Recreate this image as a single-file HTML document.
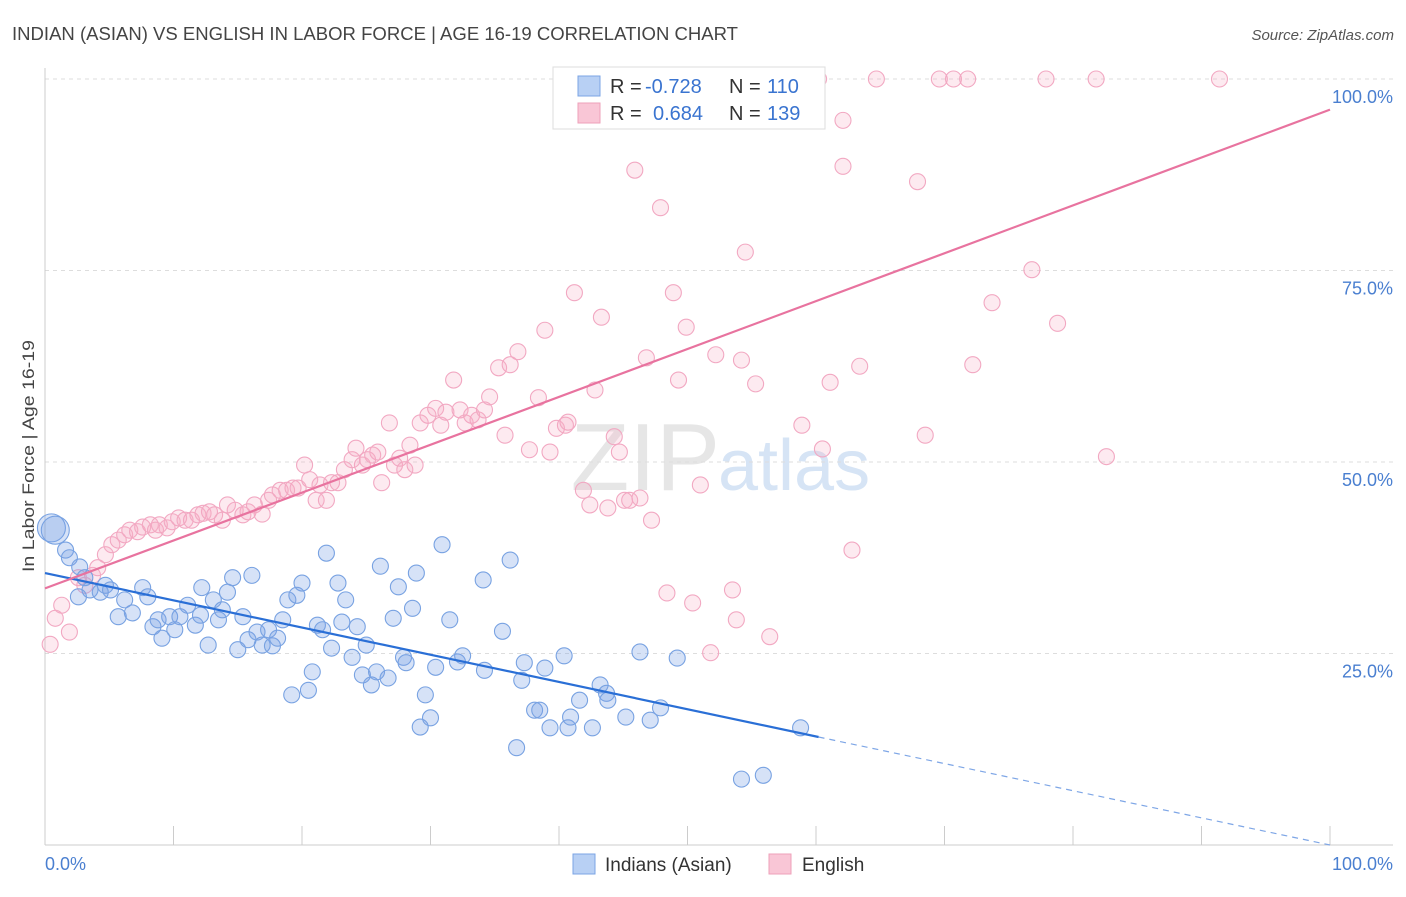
<!DOCTYPE html>
<html><head><meta charset="utf-8"><style>
body{margin:0;background:#fff;font-family:"Liberation Sans",sans-serif;}
svg text{font-family:"Liberation Sans",sans-serif;}
</style></head><body>
<svg id="chart" width="1406" height="892" viewBox="0 0 1406 892">
<text x="12" y="40" font-size="18" fill="#444" textLength="726" lengthAdjust="spacingAndGlyphs">INDIAN (ASIAN) VS ENGLISH IN LABOR FORCE | AGE 16-19 CORRELATION CHART</text>
<text x="1394" y="40" font-size="15" fill="#555" text-anchor="end" font-style="italic">Source: ZipAtlas.com</text>
<text x="720" y="490" font-size="96" fill="#e6e6e6" text-anchor="end" font-family="Liberation Serif">ZIP</text>
<text x="718" y="490" font-size="72" fill="#d6e4f5">atlas</text>
<g id="grid"></g>
<g id="marks"></g>
<text transform="translate(34,456) rotate(-90)" font-size="17" fill="#444" text-anchor="middle" textLength="232" lengthAdjust="spacingAndGlyphs">In Labor Force | Age 16-19</text>
<text x="45" y="870" font-size="18" fill="#4a7fd0">0.0%</text>
<text x="1393" y="870" font-size="18" fill="#4a7fd0" text-anchor="end">100.0%</text>
<g>
<rect x="553" y="67" width="272" height="62" fill="#fff" stroke="#ddd"/>
<rect x="578" y="76" width="22" height="20" fill="#b8d0f4" stroke="#7ba4e4"/>
<rect x="578" y="103" width="22" height="20" fill="#f9c6d6" stroke="#eea0ba"/>
<text x="610" y="93" font-size="20" fill="#333">R =</text><text x="645" y="93" font-size="20" fill="#3a74d0">-0.728</text>
<text x="729" y="93" font-size="20" fill="#333">N =</text><text x="767" y="93" font-size="20" fill="#3a74d0">110</text>
<text x="610" y="120" font-size="20" fill="#333">R =</text><text x="653" y="120" font-size="20" fill="#3a74d0">0.684</text>
<text x="729" y="120" font-size="20" fill="#333">N =</text><text x="767" y="120" font-size="20" fill="#3a74d0">139</text>
</g>
<g>
<rect x="573" y="854" width="22" height="20" fill="#b8d0f4" stroke="#7ba4e4"/>
<text x="605" y="871" font-size="19" fill="#333">Indians (Asian)</text>
<rect x="769" y="854" width="22" height="20" fill="#f9c6d6" stroke="#eea0ba"/>
<text x="802" y="871" font-size="19" fill="#333">English</text>
</g>
</svg>
<script>
const yTicks=[25,50,75,100];
const yTickLabels=["25.0%","50.0%","75.0%","100.0%"];
const xTicks=[0,10,20,30,40,50,60,70,80,90,100];
const blueX=[0.5,0.8,1.6,1.9,2.7,3.1,3.5,2.6,4.3,4.7,5.1,5.7,6.2,6.8,7.6,8.0,8.4,8.8,9.1,9.7,10.1,10.5,11.1,11.7,12.1,12.2,12.7,13.1,13.5,13.8,14.2,14.6,15.0,15.4,15.8,16.1,16.5,16.9,17.4,17.7,18.1,18.5,18.9,19.2,19.6,20.0,20.5,20.8,21.2,21.6,21.9,22.3,22.8,23.1,23.4,23.9,24.3,24.7,25.0,25.4,25.8,26.1,26.7,27.1,27.5,27.9,28.1,28.6,28.9,29.2,29.6,30.0,30.4,30.9,31.5,32.1,32.5,34.1,34.2,35.6,36.2,36.7,37.1,37.3,38.1,38.5,38.9,39.3,40.4,40.7,40.9,41.6,42.6,43.2,43.7,43.8,45.2,46.3,47.1,47.9,49.2,54.2,55.9,58.8];
const blueY=[41.4,41.1,38.5,37.5,36.3,34.9,33.3,32.4,33.0,33.9,33.3,29.8,32.0,30.3,33.6,32.4,28.5,29.4,27.0,29.8,28.1,29.8,31.3,28.7,30.0,33.6,26.1,32.0,29.4,30.7,33.0,34.9,25.5,29.8,26.8,35.2,27.8,26.1,28.1,26.0,27.0,29.4,32.0,19.6,32.6,34.2,20.2,22.6,28.7,28.1,38.1,25.7,34.2,29.1,32.0,24.5,28.5,22.2,26.1,20.9,22.6,36.4,21.8,29.6,33.7,24.5,23.8,30.9,35.5,15.4,19.6,16.6,23.2,39.2,29.4,23.9,24.7,34.6,22.8,27.9,37.2,12.7,21.5,23.8,17.6,17.6,23.1,15.3,24.7,15.3,16.7,18.9,15.3,20.9,19.8,18.9,16.7,25.2,16.3,17.9,24.4,8.6,9.1,15.3];
const pinkX=[0.4,0.8,1.3,1.9,2.6,3.1,3.7,4.1,4.7,5.2,5.7,6.2,6.6,7.2,7.6,8.2,8.6,8.9,9.5,9.9,10.4,10.9,11.4,11.9,12.3,12.8,13.2,13.8,14.2,14.8,15.4,15.8,16.3,16.9,17.4,17.7,18.3,18.8,19.3,19.7,20.2,20.6,21.1,21.4,21.9,22.3,22.8,23.3,23.9,24.2,24.7,25.1,25.5,25.9,26.2,26.8,27.2,27.6,28.0,28.4,28.8,29.2,29.8,30.4,30.8,31.2,31.8,32.3,32.7,33.2,33.7,34.2,34.6,35.3,35.8,36.2,36.8,37.7,38.4,38.9,39.3,39.8,40.5,40.7,41.2,41.9,42.4,42.8,43.3,43.8,44.3,44.7,45.1,45.5,45.9,46.3,46.8,47.2,47.9,48.4,48.9,49.3,49.9,50.4,51.0,51.8,52.2,53.5,53.8,54.2,54.5,55.3,56.4,58.9,60.5,61.1,62.1,62.1,62.8,63.4,64.7,67.9,68.5,69.6,70.7,71.8,72.2,73.7,76.8,77.9,78.8,81.8,82.6,91.4,53.3,55.6,58.0,59.5,60.2];
const pinkY=[26.2,29.6,31.3,27.8,34.9,33.9,35.2,36.2,37.9,39.2,39.8,40.5,41.1,40.9,41.5,41.8,41.1,41.8,41.4,42.2,42.7,42.4,42.4,43.1,43.3,43.5,43.1,42.4,44.4,43.7,43.1,43.5,44.4,43.2,45.0,45.7,46.3,46.3,46.6,46.6,49.6,47.7,45.0,47.0,45.0,47.3,47.3,49.0,50.3,51.8,49.6,50.3,50.9,51.3,47.3,55.1,49.6,50.5,49.0,52.2,49.6,55.1,56.1,57.0,54.8,56.5,60.7,56.8,55.1,56.1,55.5,56.8,58.5,62.3,53.5,62.7,64.4,51.6,58.4,67.2,51.3,54.4,54.8,55.2,72.1,46.3,44.4,59.4,68.9,44.0,53.3,51.3,45.0,45.0,88.1,45.3,63.6,42.4,83.2,32.9,72.1,60.7,67.6,31.6,47.0,25.1,64.0,33.3,29.4,63.3,77.4,60.2,27.2,54.8,51.7,60.4,88.6,94.6,38.5,62.5,100,86.6,53.5,100,100,100,62.7,70.8,75.1,100,68.1,100,50.7,100,100,100,100,100,100];
const blueLine=[35.5,14.1,0];const blueLineX=[0,60.2,100];
const pinkLine=[33.5,96];const pinkLineX=[0,100];

const X=v=>45+v*12.85, Y=v=>845-v*7.66;
const NS="http://www.w3.org/2000/svg";
const grid=document.getElementById('grid'), marks=document.getElementById('marks');
function mk(tag,attrs,parent){const e=document.createElementNS(NS,tag);for(const k in attrs)e.setAttribute(k,attrs[k]);parent.appendChild(e);return e;}
yTicks.forEach((t,i)=>{
 const l=mk('line',{x1:45,x2:1393,y1:Y(t),y2:Y(t),stroke:'#ddd','stroke-dasharray':'4,4'},grid);
 
 
 const tx=mk('text',{x:1393,y:Y(t)+24,'font-size':18,fill:'#4a7fd0','text-anchor':'end'},grid);
 tx.textContent=yTickLabels[i];
 
 
});
const ax=mk('line',{x1:45,x2:1393,y1:845,y2:845,stroke:'#ccc'},grid);


const ay=mk('line',{x1:45,x2:45,y1:68,y2:845,stroke:'#ccc'},grid);


xTicks.forEach(t=>{const l=mk('line',{x1:X(t),x2:X(t),y1:826,y2:845,stroke:'#ccc'},grid);
 
 });
function dots(xs,ys,fill,stroke,name){xs.forEach((x,i)=>{
 const big=(name==='blue-point'&&i<2);
 const c=mk('circle',{cx:X(x),cy:Y(ys[i]),r:big?14:8,fill:fill,stroke:stroke,'stroke-width':1.1},marks);
 
 });}
dots(pinkX,pinkY,'rgba(246,170,196,0.25)','#f2a8c2','pink-point');
dots(blueX,blueY,'rgba(120,160,230,0.3)','#78a2e2','blue-point');
const bl=mk('line',{x1:X(blueLineX[0]),y1:Y(blueLine[0]),x2:X(blueLineX[1]),y2:Y(blueLine[1]),stroke:'#2a6fd6','stroke-width':2.2},marks);


const bd=mk('line',{x1:X(blueLineX[1]),y1:Y(blueLine[1]),x2:X(blueLineX[2]),y2:Y(blueLine[2]),stroke:'#7ea6e6','stroke-width':1.2,'stroke-dasharray':'6,5'},marks);


const pl=mk('line',{x1:X(pinkLineX[0]),y1:Y(pinkLine[0]),x2:X(pinkLineX[1]),y2:Y(pinkLine[1]),stroke:'#e8739f','stroke-width':2.2},marks);


</script>
</body></html>
